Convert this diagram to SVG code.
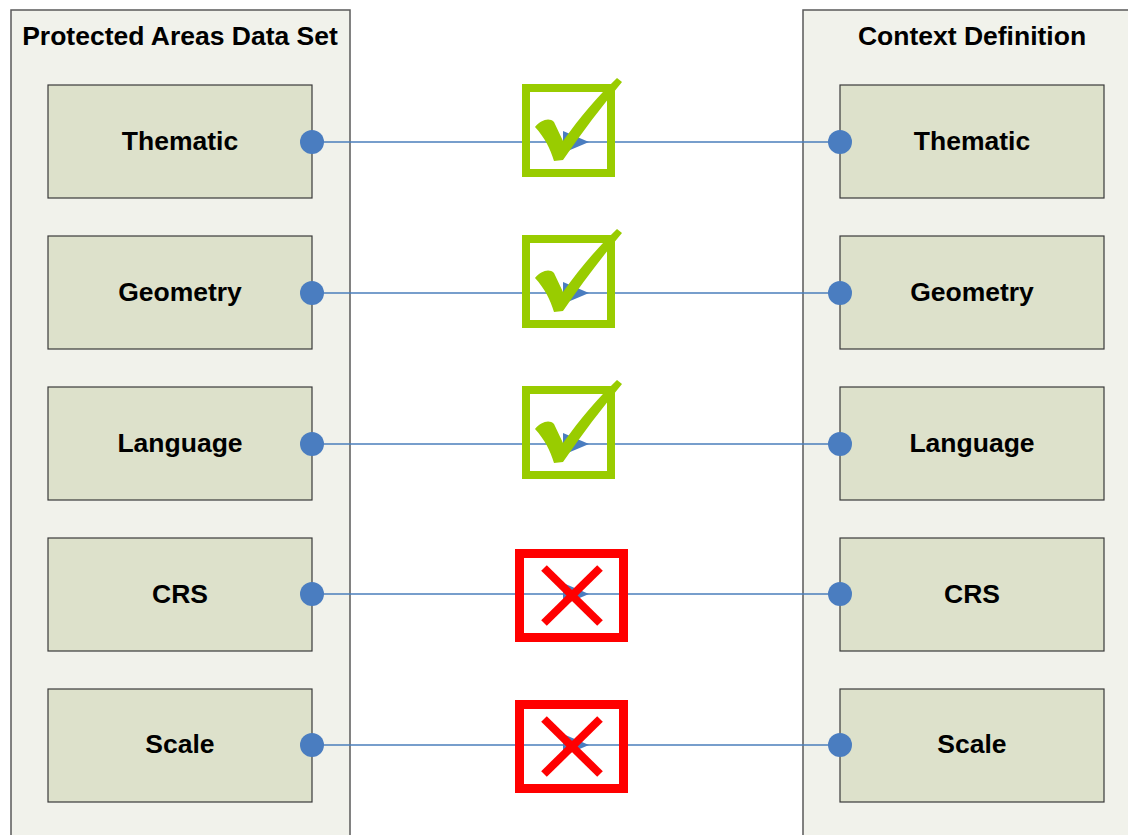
<svg xmlns="http://www.w3.org/2000/svg" width="1128" height="835" viewBox="0 0 1128 835">
<style>
.cont{fill:#F1F2EB;stroke:#5a5a5a;stroke-width:1.5}
.node{fill:#DDE1CB;stroke:#3a3a3a;stroke-width:1.2}
.t{font-family:"Liberation Sans",Arial,sans-serif;font-weight:bold;font-size:26.5px;fill:#000;text-anchor:middle}
.h{font-family:"Liberation Sans",Arial,sans-serif;font-weight:bold;font-size:26.5px;fill:#000;text-anchor:middle}
.ln{stroke:#4A7EBB;stroke-width:1.6;fill:none}
.dot{fill:#4A7DC0}
.arr{fill:#4A7DC0}
.ok{fill:none;stroke:#99CC00;stroke-width:8}
.okm{fill:#99CC00}
.no{fill:none;stroke:#FF0000;stroke-width:9}
.nox{stroke:#FF0000;stroke-width:8;fill:none}
</style>
<rect width="1128" height="835" fill="#fff"/>
<g id="left-container">
<rect class="cont" x="11" y="10" width="339" height="840"/>
<text class="h" x="180" y="45">Protected Areas Data Set</text>
</g>
<g id="right-container">
<rect class="cont" x="803" y="10" width="340" height="840"/>
<text class="h" x="972" y="45">Context Definition</text>
</g>
<g id="l-thematic"><rect class="node" x="48" y="85" width="264" height="113"/><text class="t" x="180" y="150">Thematic</text></g>
<g id="l-geometry"><rect class="node" x="48" y="236" width="264" height="113"/><text class="t" x="180" y="301">Geometry</text></g>
<g id="l-language"><rect class="node" x="48" y="387" width="264" height="113"/><text class="t" x="180" y="452">Language</text></g>
<g id="l-crs"><rect class="node" x="48" y="538" width="264" height="113"/><text class="t" x="180" y="603">CRS</text></g>
<g id="l-scale"><rect class="node" x="48" y="689" width="264" height="113"/><text class="t" x="180" y="753">Scale</text></g>
<g id="r-thematic"><rect class="node" x="840" y="85" width="264" height="113"/><text class="t" x="972" y="150">Thematic</text></g>
<g id="r-geometry"><rect class="node" x="840" y="236" width="264" height="113"/><text class="t" x="972" y="301">Geometry</text></g>
<g id="r-language"><rect class="node" x="840" y="387" width="264" height="113"/><text class="t" x="972" y="452">Language</text></g>
<g id="r-crs"><rect class="node" x="840" y="538" width="264" height="113"/><text class="t" x="972" y="603">CRS</text></g>
<g id="r-scale"><rect class="node" x="840" y="689" width="264" height="113"/><text class="t" x="972" y="753">Scale</text></g>
<g id="connectors">
<line class="ln" x1="312" y1="142" x2="840" y2="142"/>
<line class="ln" x1="312" y1="293" x2="840" y2="293"/>
<line class="ln" x1="312" y1="444" x2="840" y2="444"/>
<line class="ln" x1="312" y1="594" x2="840" y2="594"/>
<line class="ln" x1="312" y1="745" x2="840" y2="745"/>
<polygon class="arr" points="563,131 589,142 563,153"/>
<polygon class="arr" points="563,282 589,293 563,304"/>
<polygon class="arr" points="563,433 589,444 563,455"/>
<polygon class="arr" points="563,583 589,594 563,605"/>
<polygon class="arr" points="563,734 589,745 563,756"/>
<circle class="dot" cx="312" cy="142" r="12"/><circle class="dot" cx="840" cy="142" r="12"/>
<circle class="dot" cx="312" cy="293" r="12"/><circle class="dot" cx="840" cy="293" r="12"/>
<circle class="dot" cx="312" cy="444" r="12"/><circle class="dot" cx="840" cy="444" r="12"/>
<circle class="dot" cx="312" cy="594" r="12"/><circle class="dot" cx="840" cy="594" r="12"/>
<circle class="dot" cx="312" cy="745" r="12"/><circle class="dot" cx="840" cy="745" r="12"/>
</g>
<defs>
<g id="check">
<rect class="ok" x="526" y="88" width="85" height="85"/>
<path class="okm" d="M535,127 C541,120 549,117 554,122 L563,141 C580,117 598,96 617,78 L622,82 C602,106 582,132 563,160 L554,161 C550,148 545,138 535,127 Z"/>
</g>
<g id="cross">
<rect class="no" x="519.5" y="553.5" width="104" height="84"/>
<line class="nox" x1="544" y1="568" x2="600" y2="623"/>
<line class="nox" x1="600" y1="568" x2="544" y2="623"/>
</g>
</defs>
<g id="status">
<use href="#check"/>
<use href="#check" y="151"/>
<use href="#check" y="302"/>
<use href="#cross"/>
<use href="#cross" y="151"/>
</g>
</svg>
